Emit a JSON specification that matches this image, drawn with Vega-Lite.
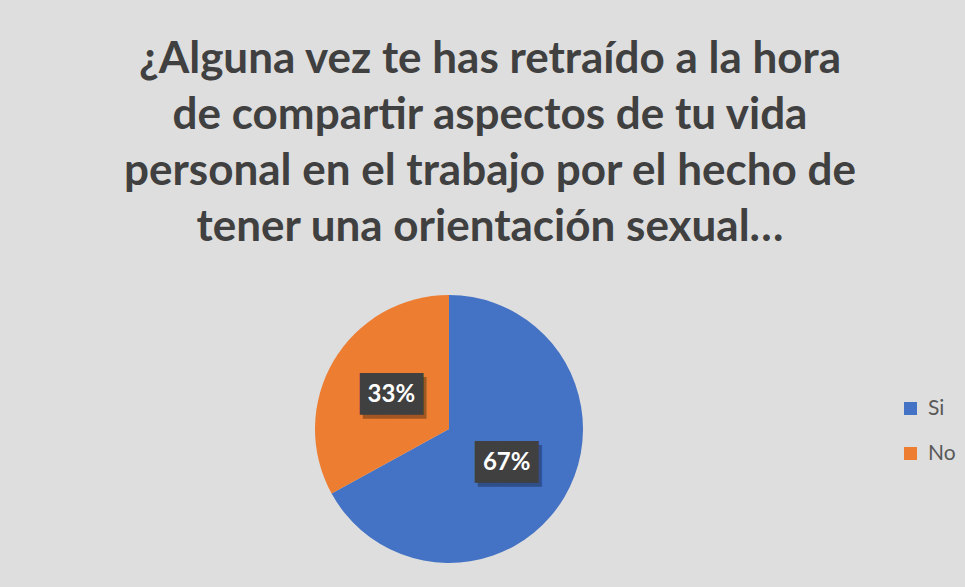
{
  "$schema": "https://vega.github.io/schema/vega-lite/v6.json",
  "autosize": {"type": "none"},
  "width": 884,
  "height": 300,
  "padding": {"left": 7, "right": 74, "top": 279, "bottom": 8},
  "background": "#dedede",
  "title": {
    "text": ["¿Alguna vez te has retraído a la hora", "de compartir aspectos de tu vida", "personal en el trabajo por el hecho de", "tener una orientación sexual…"],
    "font": "Lato",
    "fontSize": 44,
    "fontWeight": "bold",
    "color": "#404040",
    "lineHeight": 56,
    "anchor": "middle",
    "dx": 41,
    "offset": 29
  },
  "data": {"values": [
    {"respuesta": "Si", "proporcion": 0.67, "orden": 1},
    {"respuesta": "No", "proporcion": 0.33, "orden": 2}
  ]},
  "encoding": {
    "theta": {"field": "proporcion", "type": "quantitative", "stack": true},
    "order": {"field": "orden", "type": "quantitative"}
  },
  "layer": [
    {
      "mark": {"type": "arc", "outerRadius": 134},
      "encoding": {
        "color": {
          "field": "respuesta", "type": "nominal",
          "scale": {"domain": ["Si", "No"], "range": ["#4472C4", "#ED7D31"]},
          "legend": {
            "title": null,
            "orient": "none",
            "legendX": 893,
            "legendY": 119,
            "symbolType": "square",
            "symbolSize": 169,
            "symbolStrokeWidth": 0,
            "labelFont": "Lato",
            "labelFontSize": 21,
            "labelColor": "#595959",
            "labelOffset": 7,
            "rowPadding": 23,
            "padding": 0
          }
        }
      }
    },
    {
      "mark": {"type": "text", "radius": 67, "font": "DejaVu Sans Mono", "fontSize": 35, "align": "center", "baseline": "middle", "dx": 3, "dy": 4, "color": "#000000", "opacity": 0.3, "text": "███"}
    },
    {
      "mark": {"type": "text", "radius": 67, "font": "DejaVu Sans Mono", "fontSize": 35, "align": "center", "baseline": "middle", "color": "#404040", "text": "███"}
    },
    {
      "mark": {"type": "text", "radius": 67, "font": "Lato", "fontSize": 24, "fontWeight": "bold", "align": "center", "baseline": "middle", "color": "#ffffff"},
      "encoding": {"text": {"field": "proporcion", "type": "quantitative", "format": ".0%"}}
    }
  ]
}
